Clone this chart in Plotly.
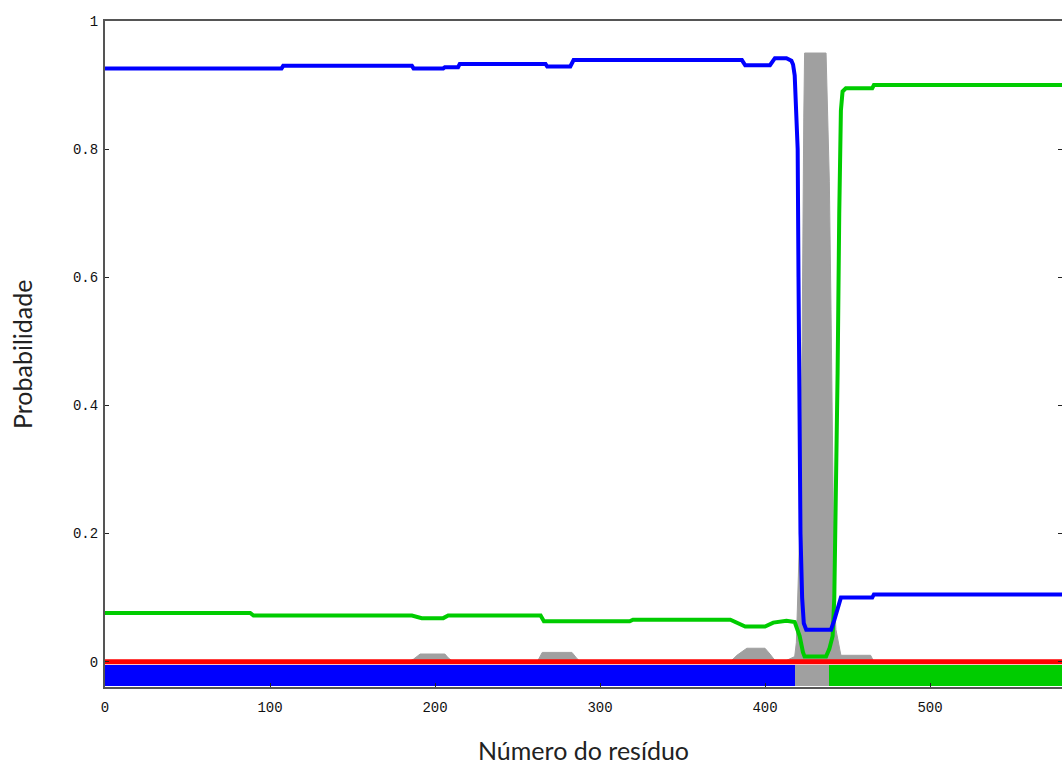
import plotly.graph_objects as go

# ---- data ----
blue_x = [0, 107, 108, 186, 187, 205, 206, 214, 215, 267, 268, 282, 284, 386, 388, 403, 406,
          413, 416, 417, 418, 419, 419.8, 420.3, 421, 421.5, 422.5, 423.5, 425, 440, 442, 444,
          446, 465, 466, 580]
blue_y = [0.926, 0.926, 0.930, 0.930, 0.926, 0.926, 0.928, 0.928, 0.933, 0.933, 0.929, 0.929,
          0.939, 0.939, 0.931, 0.931, 0.942, 0.942, 0.938, 0.932, 0.915, 0.86, 0.8, 0.6, 0.4,
          0.2, 0.1, 0.06, 0.05, 0.05, 0.065, 0.085, 0.1, 0.1, 0.105, 0.105]

green_x = [0, 88, 90, 186, 192, 205, 208, 264, 266, 318, 320, 379, 388, 400, 405, 413, 418,
           421, 423, 424, 425, 437, 439, 441, 442, 443, 444, 445, 446, 447, 449, 465, 466, 580]
green_y = [0.076, 0.076, 0.072, 0.072, 0.068, 0.068, 0.072, 0.072, 0.063, 0.063, 0.0655,
           0.0655, 0.055, 0.055, 0.061, 0.064, 0.062, 0.04, 0.015, 0.008, 0.008, 0.008, 0.02,
           0.04, 0.1, 0.25, 0.45, 0.7, 0.86, 0.89, 0.895, 0.895, 0.9, 0.9]

gray_x = [0, 184, 187, 191, 206, 208, 211, 262, 265, 283, 286, 288, 379, 383, 389, 400, 403,
          406, 413, 416, 418, 419, 420, 421, 421.5, 422.5, 423.5, 424, 437, 438, 439, 440, 441,
          442, 443, 445, 446, 464, 466, 580]
gray_y = [0, 0, 0.004, 0.012, 0.012, 0.006, 0, 0, 0.0145, 0.0145, 0.005, 0, 0, 0.01, 0.021,
          0.021, 0.012, 0.002, 0.002, 0.005, 0.008, 0.03, 0.1, 0.2, 0.3, 0.5, 0.85, 0.95, 0.95,
          0.85, 0.75, 0.55, 0.3, 0.1, 0.05, 0.02, 0.01, 0.01, 0, 0]

red_x = [0, 580]
red_y = [0, 0]

seg_start = [0, 418, 439]
seg_end = [418, 439, 580]
seg_color = ["#0000ff", "#a0a0a0", "#00cc00"]

x_ticks = [0, 100, 200, 300, 400, 500]
y_ticks = [0, 0.2, 0.4, 0.6, 0.8, 1]
y_ticktext = ["0", "0.2", "0.4", "0.6", "0.8", "1"]

fig = go.Figure()

# topology bar along the bottom
for s, e, c in zip(seg_start, seg_end, seg_color):
    fig.add_trace(go.Bar(x=[e - s], base=[s], y=[-0.0215], orientation="h", width=0.033,
                         marker=dict(color=c, line=dict(width=0)), showlegend=False,
                         hoverinfo="skip"))

fig.add_trace(go.Scatter(x=gray_x, y=gray_y, mode="lines", fill="tozeroy",
                         line=dict(color="#a0a0a0", width=1), fillcolor="#a0a0a0",
                         showlegend=False))
fig.add_trace(go.Scatter(x=red_x, y=red_y, mode="lines", line=dict(color="#ff0000", width=5),
                         showlegend=False))
fig.add_trace(go.Scatter(x=green_x, y=green_y, mode="lines",
                         line=dict(color="#00cc00", width=4), showlegend=False))
fig.add_trace(go.Scatter(x=blue_x, y=blue_y, mode="lines",
                         line=dict(color="#0000ff", width=4), showlegend=False))

# invisible trace on the right y axis, only to carry the right-side ticks
fig.add_trace(go.Scatter(x=[0], y=[0], yaxis="y2", mode="markers",
                         marker=dict(opacity=0), showlegend=False, hoverinfo="skip"))

tick_font = dict(family="Liberation Mono", size=14, color="#111")
title_font = dict(family="Lato", size=25, color="#222")

fig.update_layout(
    width=1062, height=767,
    margin=dict(l=105, r=0, t=21, b=80),
    paper_bgcolor="white", plot_bgcolor="white",
    barmode="overlay", bargap=0,
    xaxis=dict(range=[0, 580], tickvals=x_ticks, ticks="inside", ticklen=4,
               tickcolor="#222", showline=True, linecolor="#555", linewidth=2, mirror=True,
               showgrid=False, zeroline=False, tickfont=tick_font, ticklabelstandoff=6),
    yaxis=dict(range=[-0.0395, 1.0], tickvals=y_ticks, ticktext=y_ticktext, ticks="inside",
               ticklen=4, tickcolor="#222", showline=True, linecolor="#555", linewidth=2,
               showgrid=False, zeroline=False, tickfont=tick_font, ticklabelstandoff=2),
    yaxis2=dict(range=[-0.0395, 1.0], overlaying="y", side="right", tickvals=y_ticks,
                ticks="inside", ticklen=4, tickcolor="#222", showticklabels=False,
                showline=False, showgrid=False, zeroline=False),
    annotations=[
        dict(text="Número do resíduo", xref="paper", yref="paper", x=0.5, y=0,
             xanchor="center", yanchor="middle", yshift=-63, showarrow=False,
             font=title_font),
        dict(text="Probabilidade", xref="paper", yref="paper", x=0, y=0.5,
             xanchor="center", yanchor="middle", xshift=-83, textangle=-90, showarrow=False,
             font=title_font),
    ],
)

fig.write_html("out.html")
